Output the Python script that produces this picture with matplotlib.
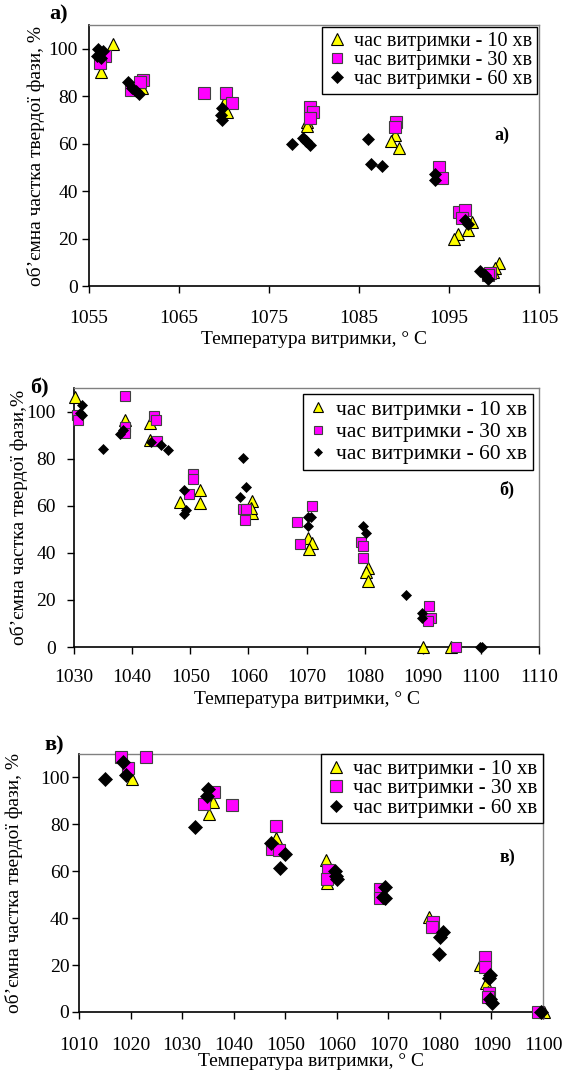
import numpy as np
import matplotlib
matplotlib.use('Agg')
from matplotlib import pyplot as plt

plt.rcParams['font.family'] = ['Liberation Serif', 'DejaVu Serif']

# ---- data: panel a) ----
aT10 = [1057.7, 1056.3, 1060.9, 1060.5, 1070.1, 1070.3, 1079.2, 1079.2, 1089.0, 1088.6, 1089.4,
        1097.5, 1097.1, 1096.0, 1095.5, 1100.5, 1100.1, 1099.9]
aV10 = [102, 90, 83.5, 86, 78, 73.5, 69, 67.5, 63.5, 61, 58,
        27, 23.5, 22, 20, 9.5, 7.5, 6]
aT30 = [1056.8, 1056.2, 1061.0, 1059.7, 1060.7, 1067.8, 1070.2, 1070.9, 1079.5, 1079.9, 1079.6,
        1089.1, 1089.0, 1093.9, 1094.2, 1096.1, 1096.8, 1096.4, 1099.6, 1099.3]
aV30 = [97, 94, 87, 82.5, 86, 81.5, 81.5, 77, 75.5, 73.5, 71,
        69, 67, 50, 45.5, 31, 32, 28.5, 5.5, 4.5]
aT60 = [1056.0, 1056.5, 1055.9, 1056.3, 1059.3, 1059.8, 1060.2, 1060.6, 1069.8, 1069.7, 1069.8,
        1077.5, 1078.8, 1079.5, 1079.1, 1086.0, 1086.3, 1087.6, 1093.4, 1093.4, 1096.8, 1097.1,
        1098.4, 1099.3, 1099.0]
aV60 = [100, 99, 97, 96, 86, 83.5, 82, 81, 75, 72, 70,
        60, 62.5, 59.5, 61, 62, 51.5, 50.5, 47, 44.5, 28, 26,
        6.5, 3, 4.5]

# ---- data: panel б) ----
bT10 = [1030.2, 1038.8, 1043.1, 1043.1, 1048.2, 1051.7, 1051.7, 1060.6, 1060.7, 1060.4,
        1070.2, 1070.9, 1070.5, 1080.6, 1080.3, 1080.5, 1090.0, 1094.8]
bV10 = [106, 96.3, 95, 88, 61.5, 66.5, 61, 62, 57, 59,
        46.5, 44, 41.5, 33.5, 32, 28, 0, 0]
bT30 = [1030.6, 1030.7, 1038.7, 1038.8, 1038.8, 1043.8, 1044.1, 1044.3, 1050.4, 1050.4, 1049.8,
        1059.1, 1059.6, 1059.4, 1068.3, 1068.8, 1070.9, 1079.3, 1079.8, 1079.8,
        1091.1, 1091.5, 1090.9, 1095.7]
bV30 = [98.7, 96.6, 106.5, 93.3, 90.8, 98, 96.3, 87.7, 73.5, 71.4, 65,
        58.7, 58.7, 54, 53, 43.7, 59.7, 44.8, 43, 38,
        17.6, 12.5, 11, 0]
bT60 = [1031.3, 1031.3, 1031.0, 1035.0, 1037.9, 1038.5, 1043.3, 1044.9, 1046.1, 1049.0, 1049.2, 1049.0,
        1058.6, 1059.1, 1059.6, 1070.3, 1070.8, 1070.2, 1079.7, 1080.2,
        1087.1, 1089.8, 1089.8, 1099.9, 1100.2]
bV60 = [102.7, 98.7, 99.5, 84, 90.6, 92, 87, 85.7, 83.5, 66.8, 58.3, 56.6,
        63.5, 80.3, 67.8, 55.2, 55.4, 51.6, 51.2, 48.4,
        22.1, 14.3, 12.2, 0, 0]

# ---- data: panel в) ----
cT10 = [1020.2, 1035.9, 1035.2, 1048.2, 1058.0, 1058.1, 1077.9, 1087.7, 1088.9, 1089.3, 1100.1]
cV10 = [99.4, 89.5, 84.5, 74, 65, 55, 40.6, 20, 12.2, 8.6, 0]
cT30 = [1018.1, 1019.6, 1022.9, 1034.3, 1036.2, 1039.6, 1048.3, 1047.5, 1048.8, 1058.3, 1058.1,
        1068.3, 1068.3, 1078.7, 1078.4, 1088.7, 1088.7, 1089.5, 1089.4, 1099.0]
cV30 = [108.6, 104.1, 108.6, 88.5, 93.7, 88.1, 79.1, 69.6, 68.9, 60.4, 56.6,
        52.3, 48.8, 38.4, 36.3, 23.5, 19, 8, 6.5, 0]
cT60 = [1015.0, 1018.6, 1019.2, 1032.5, 1035.1, 1034.9, 1047.2, 1049.9, 1049.0, 1059.6, 1060.1, 1059.9,
        1069.4, 1069.4, 1069.0, 1080.6, 1080.0, 1079.8, 1089.8, 1089.6, 1089.7, 1090.2, 1099.7]
cV60 = [99.4, 106.5, 101.1, 78.9, 95.2, 91.9, 72.1, 67.5, 61.6, 60.1, 56.6, 58,
        53.3, 48.4, 49, 34.2, 32, 24.7, 15.7, 14.3, 5.5, 3.7, 0]

seriesLabels = ['час витримки - 10 хв', 'час витримки - 30 хв', 'час витримки - 60 хв']
yTicks = [0, 20, 40, 60, 80, 100]
aXTicks = [1055, 1065, 1075, 1085, 1095, 1105]
bXTicks = [1030, 1040, 1050, 1060, 1070, 1080, 1090, 1100, 1110]
cXTicks = [1010, 1020, 1030, 1040, 1050, 1060, 1070, 1080, 1090, 1100]
yTitle = 'об’ємна частка твердої фази, %'
yTitleB = 'об’ємна частка твердої фази,%'
xTitle = 'Температура витримки, ° C'

W, H = 564, 1073
fig = plt.figure(figsize=(W / 100, H / 100), dpi=100)


def pixBox(left, top, right, bottom):
    # axes rectangle from pixel edges
    return [left / W, 1 - bottom / H, (right - left) / W, (bottom - top) / H]


def plotPanel(box, data, xTicks, tag, tagPos, innerPos, yLabel, yLabelX, xLabelY,
              sizes=(8, 7.5, 6), legendPad=0.0, legendFont=14.5, legendGap=0.0,
              yPad=3, xPad=10):
    ax = fig.add_axes(pixBox(*box))
    (t10, v10), (t30, v30), (t60, v60) = data
    s10, s30, s60 = sizes
    ax.plot(t10, v10, ls='none', marker='^', ms=s10, mfc='#FFFF00', mec='black', mew=0.8,
            label=seriesLabels[0], clip_on=False, zorder=3)
    ax.plot(t30, v30, ls='none', marker='s', ms=s30, mfc='#FF00FF', mec='#404040', mew=0.8,
            label=seriesLabels[1], clip_on=False, zorder=4)
    ax.plot(t60, v60, ls='none', marker='D', ms=s60, mfc='black', mec='black', mew=0.5,
            label=seriesLabels[2], clip_on=False, zorder=5)

    ax.set_xlim(xTicks[0], xTicks[-1])
    ax.set_ylim(0, 110)
    ax.set_xticks(xTicks)
    ax.set_yticks(yTicks)
    ax.tick_params(direction='out', length=5, width=1, labelsize=14, colors='black')
    ax.tick_params(axis='x', pad=xPad)
    ax.tick_params(axis='y', pad=yPad)
    for side in ['top', 'right']:
        ax.spines[side].set_color('#808080')
        ax.spines[side].set_linewidth(1)
    for side in ['left', 'bottom']:
        ax.spines[side].set_linewidth(1.2)

    leg = ax.legend(loc='upper right', bbox_to_anchor=(1, 1), borderaxespad=legendPad,
                    fontsize=legendFont, frameon=True, fancybox=False, framealpha=1,
                    handlelength=0.9, handletextpad=0.4, labelspacing=legendGap,
                    borderpad=0.25, markerscale=0.9)
    leg.get_frame().set_edgecolor('black')
    leg.get_frame().set_linewidth(1)

    # panel tags
    fig.text(tagPos[0] / W, 1 - tagPos[1] / H, tag, fontsize=16, fontweight='bold',
             ha='center', va='center')
    fig.text(innerPos[0] / W, 1 - innerPos[1] / H, tag, fontsize=13, fontweight='bold',
             ha='center', va='center')

    # axis titles
    yMid = (box[1] + box[3]) / 2
    xMid = (box[0] + box[2]) / 2
    fig.text(yLabelX / W, 1 - yMid / H, yLabel, fontsize=14,
             rotation=90, ha='center', va='center')
    fig.text(xMid / W, 1 - xLabelY / H, xTitle, fontsize=14,
             ha='center', va='center')
    return ax


plotPanel((89, 25, 539, 286), [(aT10, aV10), (aT30, aV30), (aT60, aV60)], aXTicks,
          'а)', (59, 14), (502, 135), yTitle, 36, 340,
          sizes=(9, 8.5, 6.5), legendPad=0.1, yPad=3, xPad=12)
plotPanel((74, 388, 539, 647), [(bT10, bV10), (bT30, bV30), (bT60, bV60)], bXTicks,
          'б)', (39, 388), (507, 490), yTitleB, 19, 700,
          sizes=(8, 6.5, 5), legendPad=0.3, legendFont=15.5, legendGap=0.1, yPad=8, xPad=11)
plotPanel((79, 754, 543, 1012), [(cT10, cV10), (cT30, cV30), (cT60, cV60)], cXTicks,
          'в)', (54, 745), (507, 857), yTitle, 14, 1062,
          sizes=(9, 9, 7), legendPad=0.0, legendFont=15, yPad=2, xPad=13)

fig.savefig('out.png', dpi=100)
